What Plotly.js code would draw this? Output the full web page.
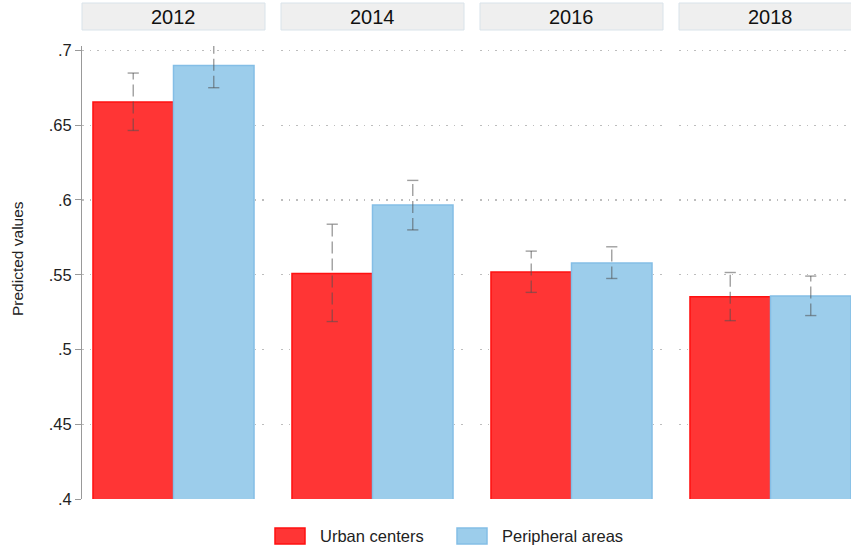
<!DOCTYPE html>
<html>
<head>
<meta charset="utf-8">
<script src="https://cdn.plot.ly/plotly-3.0.1.min.js"></script>
<style>html,body{margin:0;padding:0;overflow:hidden;background:#fff;}#chart{width:862px;height:550px;}</style>
</head>
<body>
<div id="chart"></div>
<script>
// ---- data ----
const years = ['2012', '2014', '2016', '2018'];
const seriesNames = ['Urban centers', 'Peripheral areas'];
const urban    = [0.6655, 0.5509, 0.5518, 0.5353];
const urbanLo  = [0.6465, 0.5187, 0.5382, 0.5193];
const urbanHi  = [0.6849, 0.5838, 0.5658, 0.5515];
const periph   = [0.6900, 0.5967, 0.5578, 0.5358];
const periphLo = [0.6751, 0.5800, 0.5475, 0.5227];
const periphHi = [0.7053, 0.6131, 0.5687, 0.5491];
const yTickVals = [0.4, 0.45, 0.5, 0.55, 0.6, 0.65, 0.7];
const yTickText = ['.4', '.45', '.5', '.55', '.6', '.65', '.7'];
const yTitle = 'Predicted values';

// ---- styles ----
const FONT = 'Liberation Sans, Arial, sans-serif';
const redFill = '#FF3535', redLine = '#FF1010';
const blueFill = '#9CCDEB', blueLine = '#84BEE6';
const ciColor = 'rgba(80,80,80,0.55)';

const W = 862, H = 550, ML = 82, MR = 0, MT = 46, MB = 51;
const plotW = W - ML - MR, plotH = H - MT - MB;
const panelW = 183, gapW = 16;

const traces = [];
const shapes = [];
const annotations = [];
const layout = {
  width: W, height: H,
  margin: {l: ML, r: MR, t: MT, b: MB, pad: 0},
  paper_bgcolor: '#fff', plot_bgcolor: '#fff',
  barmode: 'group', bargap: 0.12, bargroupgap: 0,
  scattermode: 'group', scattergap: 0.12,
  showlegend: false,
  font: {family: FONT, size: 16, color: '#222'},
  yaxis: {
    range: [0.4, 0.703], anchor: 'x',
    tickvals: yTickVals, ticktext: yTickText,
    ticks: 'outside', ticklen: 6, tickcolor: '#999', tickwidth: 1,
    showline: true, linecolor: '#999', linewidth: 1,
    showgrid: true, gridcolor: '#bdbdbd', griddash: '1.5px,6px', gridwidth: 1.2,
    zeroline: false, automargin: false,
    tickfont: {family: FONT, size: 16.5, color: '#222'}
  }
};

function px2x(px) { return (px - ML) / plotW; }
function py2y(py) { return (H - MB - py) / plotH; }

years.forEach((yr, i) => {
  const xa = i === 0 ? 'x' : 'x' + (i + 1);
  const xaKey = i === 0 ? 'xaxis' : 'xaxis' + (i + 1);
  const d0 = (i * (panelW + gapW)) / plotW;
  const d1 = (i * (panelW + gapW) + panelW) / plotW;
  layout[xaKey] = {
    domain: [d0, Math.min(d1, 1)], anchor: 'y', type: 'category',
    showticklabels: false, ticks: '', showline: false, showgrid: false, zeroline: false,
    range: [-0.5, 0.5], fixedrange: true
  };
  traces.push({
    type: 'bar', x: [yr], y: [urban[i]], name: seriesNames[0], xaxis: xa, yaxis: 'y',
    marker: {color: redFill, line: {color: redLine, width: 1.5}}, hoverinfo: 'skip'
  });
  traces.push({
    type: 'bar', x: [yr], y: [periph[i]], name: seriesNames[1], xaxis: xa, yaxis: 'y',
    marker: {color: blueFill, line: {color: blueLine, width: 1.5}}, hoverinfo: 'skip'
  });
  [[urbanLo, urbanHi], [periphLo, periphHi]].forEach(([lo, hi]) => {
    traces.push({
      type: 'scatter', mode: 'lines+markers', x: [yr, yr], y: [lo[i], hi[i]],
      xaxis: xa, yaxis: 'y', cliponaxis: false, hoverinfo: 'skip',
      line: {color: ciColor, width: 1.4, dash: '12px,5px'},
      marker: {symbol: 'line-ew', size: 8, line: {color: ciColor, width: 1.4}, color: ciColor}
    });
  });
  // strip header
  shapes.push({
    type: 'rect', xref: xa + ' domain', yref: 'paper',
    x0: 0, x1: 1, y0: py2y(30), y1: py2y(3),
    fillcolor: '#EFEFEF', line: {color: '#D9E3EA', width: 1}, layer: 'below'
  });
  annotations.push({
    xref: xa + ' domain', yref: 'paper', x: 0.5, y: py2y(16.5),
    xanchor: 'center', yanchor: 'middle', showarrow: false, text: yr,
    font: {family: FONT, size: 20, color: '#111'}
  });
});

// y axis title
annotations.push({
  xref: 'paper', yref: 'paper', x: px2x(17), y: py2y(259),
  xanchor: 'center', yanchor: 'middle', textangle: -90, showarrow: false,
  text: yTitle, font: {family: FONT, size: 15.5, color: '#222'}
});

// legend (manual, to match wide swatches)
const legendItems = [
  {name: seriesNames[0], fill: redFill, line: redLine, sx: 275},
  {name: seriesNames[1], fill: blueFill, line: blueLine, sx: 457}
];
legendItems.forEach(it => {
  shapes.push({
    type: 'rect', xref: 'paper', yref: 'paper',
    x0: px2x(it.sx), x1: px2x(it.sx + 30), y0: py2y(544), y1: py2y(528),
    fillcolor: it.fill, line: {color: it.line, width: 1.5}
  });
  annotations.push({
    xref: 'paper', yref: 'paper', x: px2x(it.sx + 43), y: py2y(536),
    xanchor: 'left', yanchor: 'middle', showarrow: false, text: it.name,
    font: {family: FONT, size: 16.5, color: '#222'}
  });
});

layout.shapes = shapes;
layout.annotations = annotations;

Plotly.newPlot('chart', traces, layout, {displayModeBar: false, staticPlot: true});
</script>
</body>
</html>
